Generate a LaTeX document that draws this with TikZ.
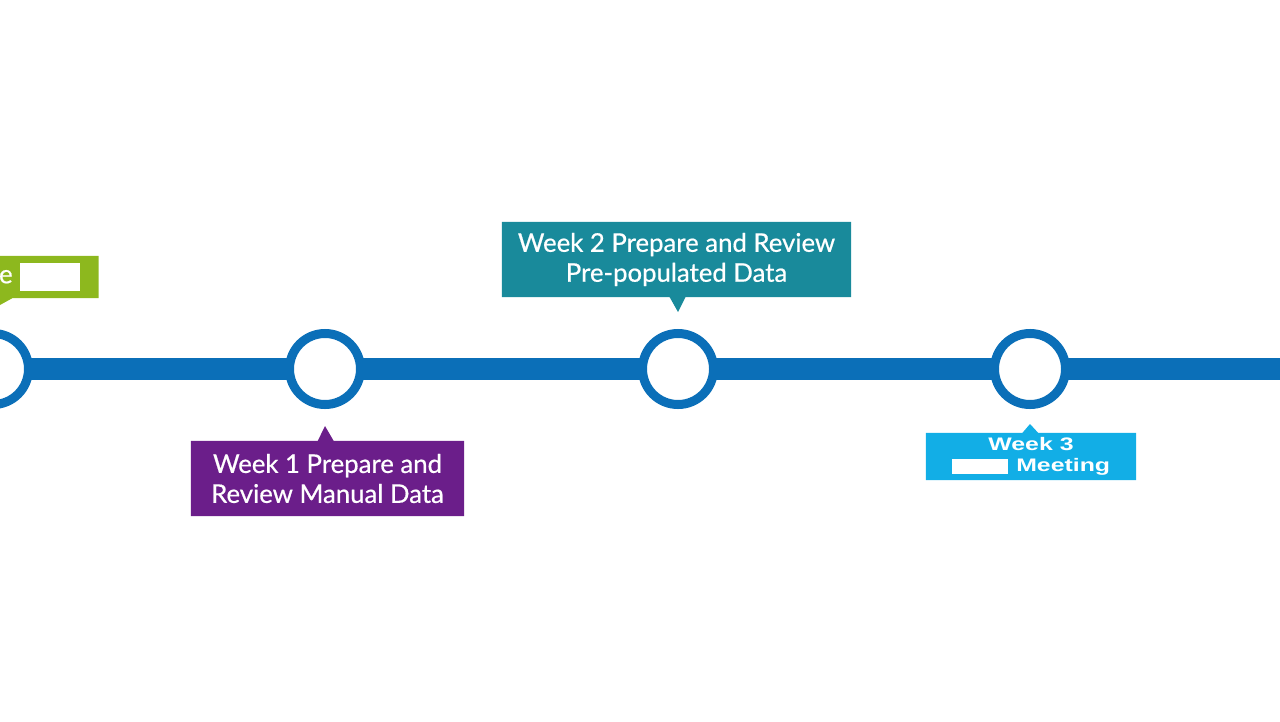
\documentclass[tikz,border=0pt]{standalone}
\usepackage{fontspec}
\setmainfont{Lato}
\newfontfamily\labelfont{Lato}[UprightFeatures={FakeBold=0.6}]
\newfontfamily\arialfont{Liberation Sans}[BoldFeatures={FakeStretch=1.37}]
\usetikzlibrary{shapes.callouts, backgrounds}
\definecolor{trackblue}{HTML}{0B6FB8}
\definecolor{startgreen}{HTML}{8DB81E}
\definecolor{weekpurple}{HTML}{6B1E8A}
\definecolor{weekteal}{HTML}{198A9B}
\definecolor{weekcyan}{HTML}{12AEE6}
\begin{document}
\begin{tikzpicture}[x=0.025cm, y=-0.025cm,
    track/.style={line width=15.6pt, trackblue},
    stop/.style={circle, draw=trackblue, line width=6.4pt, fill=white, minimum size=1.775cm, inner sep=0pt},
    label/.style={rectangle callout, callout pointer width=0.4cm, text=white, align=center, inner sep=0pt,
        font=\labelfont\fontsize{18.3}{21.3}\selectfont}]
    \useasboundingbox (0,0) rectangle (1280,722);
    
    % Stops on the timeline
    \node[stop] (c0) at (-7, 369) {};
    \node[stop] (c1) at (325, 369) {};
    \node[stop] (c2) at (678, 369) {};
    \node[stop] (c3) at (1030, 369) {};
    \coordinate (rgt) at (1290, 369);
    
    % Track between the stops, behind them
    \begin{scope}[on background layer]
        \draw[track] (c0.center) -- (c1.center);
        \draw[track] (c1.center) -- (c2.center);
        \draw[track] (c2.center) -- (c3.center);
        \draw[track] (c3.center) -- (rgt);
    \end{scope}
    
    % Callouts
    \node[label, fill=startgreen, minimum width=4cm, minimum height=1.05cm, text width=4cm, align=right,
        anchor=east, callout absolute pointer={(0,305)}] (start) at (99, 277)
        {e\hspace{5pt}\textcolor{white}{\rule[-5.5pt]{42.7pt}{19.9pt}}\hspace*{13.5pt}};
    \node[label, fill=weekpurple, minimum width=6.825cm, minimum height=1.875cm,
        callout absolute pointer={(325,426)}] (week1) at (327.5, 478.5)
        {Week 1 Prepare and\\Review Manual Data};
    \node[label, fill=weekteal, minimum width=8.725cm, minimum height=1.875cm,
        callout absolute pointer={(678,312)}] (week2) at (676.5, 259.5)
        {Week 2 Prepare and Review\\Pre-populated Data};
    \node[label, fill=weekcyan, minimum width=5.25cm, minimum height=1.175cm,
        font=\arialfont\bfseries\fontsize{12.9}{15}\selectfont,
        callout absolute pointer={(1030,424)}] (week3) at (1031, 456.5)
        {Week 3\\\textcolor{white}{\rule[-1.5pt]{39.8pt}{10.7pt}}\hspace{6pt}Meeting};
\end{tikzpicture}
\end{document}
